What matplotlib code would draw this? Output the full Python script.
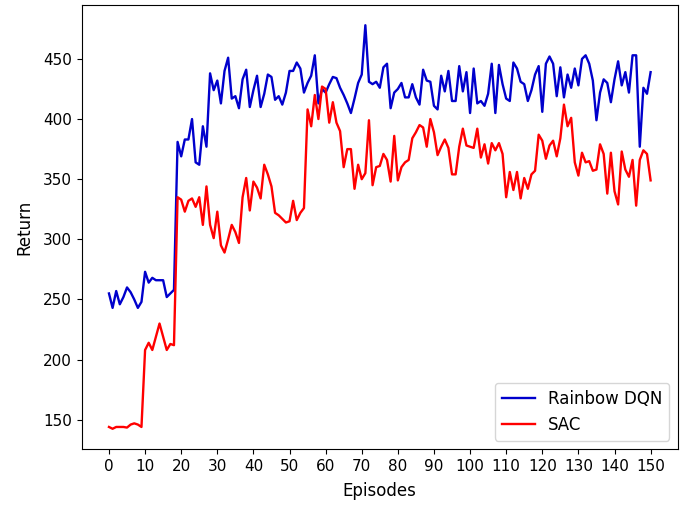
import numpy as np
import matplotlib
matplotlib.use("Agg")
import matplotlib.pyplot as plt

episodes = np.arange(0, 151)

rainbow_dqn = [
    255, 243, 257, 246, 252, 260, 256, 250, 243, 248,
    273, 264, 268, 266, 266, 266, 252, 255, 258, 381,
    369, 383, 383, 400, 364, 362, 394, 377, 438, 424,
    432, 413, 440, 451, 417, 419, 409, 433, 441, 410,
    424, 436, 410, 421, 437, 435, 416, 419, 412, 422,
    440, 440, 447, 442, 422, 430, 436, 453, 413, 425,
    422, 429, 435, 434, 426, 420, 413, 405, 417, 430,
    437, 478, 431, 429, 431, 426, 443, 446, 409, 422,
    425, 430, 418, 418, 429, 418, 412, 441, 432, 431,
    411, 408, 436, 423, 440, 415, 415, 444, 423, 439,
    405, 442, 413, 415, 411, 421, 446, 405, 445, 429,
    417, 415, 447, 442, 431, 429, 415, 424, 437, 444,
    406, 446, 452, 446, 419, 443, 418, 437, 426, 442,
    428, 450, 453, 446, 432, 399, 422, 433, 430, 414,
    433, 448, 428, 439, 422, 453, 453, 377, 426, 421, 439,
]

sac = [
    144, 142.5, 144, 144, 144, 143.5, 146, 147, 146, 144,
    208, 214, 208, 219, 230, 219, 208, 213, 212, 335,
    333, 323, 332, 334, 327, 335, 312, 344, 312, 301,
    323, 295, 289, 300, 312, 306, 297, 335, 351, 324,
    348, 343, 334, 362, 354, 344, 322, 320, 317, 314,
    315, 332, 316, 322, 326, 408, 394, 420, 400, 427,
    425, 397, 414, 397, 390, 360, 375, 375, 342, 362,
    350, 355, 399, 345, 360, 361, 371, 366, 348, 386,
    349, 360, 364, 366, 384, 389, 395, 393, 377, 400,
    389, 370, 377, 383, 376, 354, 354, 377, 392, 378,
    377, 376, 392, 368, 379, 363, 380, 374, 380, 371,
    335, 356, 341, 356, 334, 351, 342, 354, 357, 387,
    382, 367, 378, 382, 369, 384, 412, 394, 401, 364,
    353, 372, 364, 365, 357, 358, 379, 371, 338, 372,
    340, 329, 373, 358, 352, 366, 328, 366, 374, 371, 349,
]

x_ticks = np.arange(0, 151, 10)

plt.rcParams["font.family"] = ["DejaVu Sans"]
plt.rcParams["font.size"] = 11

fig = plt.figure(figsize=(6.94, 5.05), dpi=100)
ax = fig.add_axes([0.118, 0.111, 0.8585, 0.879])

ax.plot(episodes, rainbow_dqn, color="#0000CC", linewidth=1.7, label="Rainbow DQN")
ax.plot(episodes, sac, color="#FF0000", linewidth=1.7, label="SAC")

ax.set_xticks(x_ticks)
ax.tick_params(labelsize=11)
ax.set_xlabel("Episodes", fontsize=12, labelpad=6)
ax.set_ylabel("Return", fontsize=12, labelpad=7)
ax.legend(loc="lower right", fontsize=12)

fig.savefig("out.png", dpi=100)
